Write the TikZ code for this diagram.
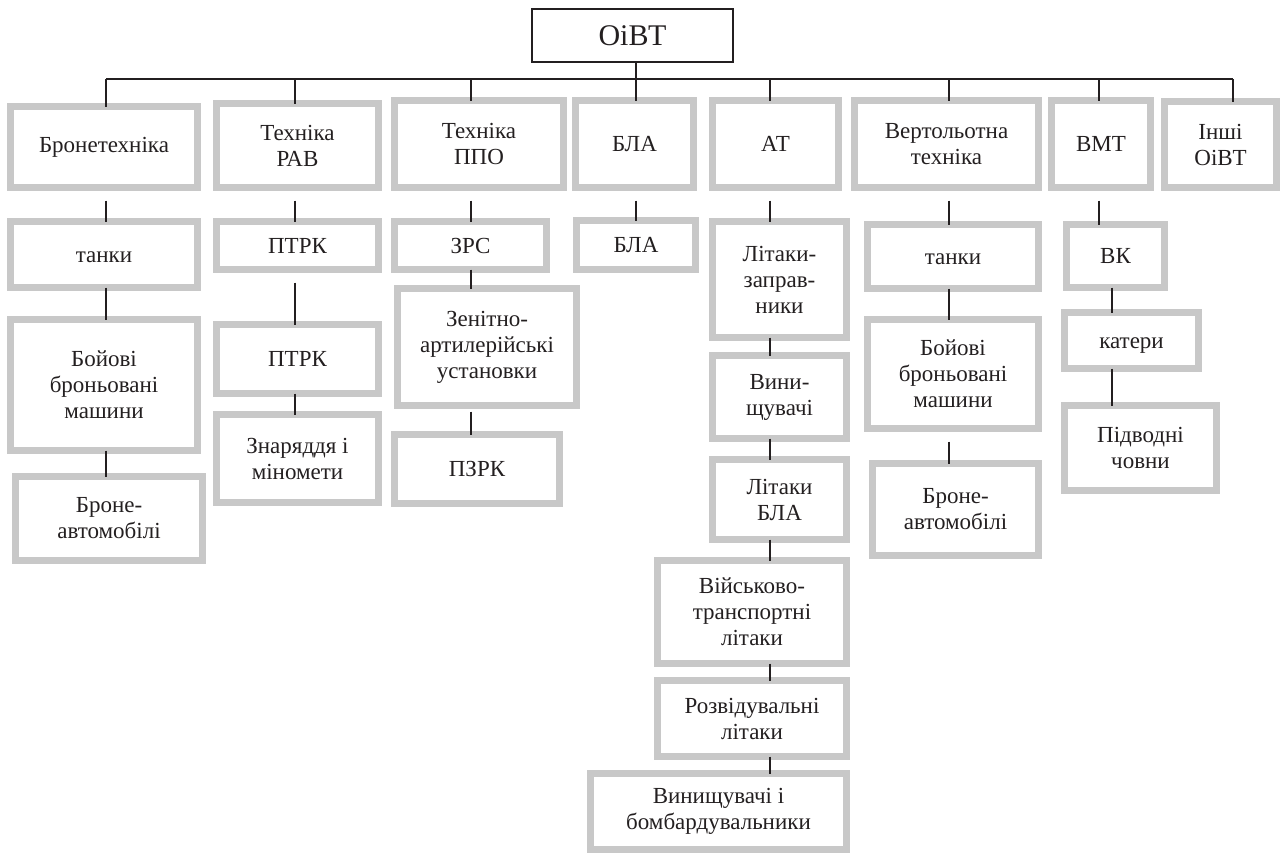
\documentclass[tikz,border=0pt]{standalone}
\usepackage{fontspec}
\setmainfont{Liberation Serif}
\definecolor{framegray}{RGB}{200,200,200}
\definecolor{inkblack}{RGB}{35,31,32}
\tikzset{
  unit/.style={
    draw = framegray,
    line width = 7pt,
    inner sep = 0pt,
    outer sep = 0pt,
    align = center,
    text = inkblack,
    font = \fontsize{23}{26}\selectfont,
  },
  wh/.style 2 args={minimum width=#1pt, minimum height=#2pt},
  oneline/.style={text height=15pt, text depth=0pt},
  link/.style={line width = 1.6pt, inkblack},
  gap/.style={shorten <= 13pt},
}

\begin{document}
\begin{tikzpicture}[x=1pt, y=-1pt]
            \useasboundingbox (0,0) rectangle (1280,854);

            \node[draw=inkblack, text=inkblack, line width=1.2pt, inner sep=0pt, minimum width=201pt, minimum height=53pt,
                  font=\fontsize{30}{36}\selectfont] (root) at (632.5,35.5) {ОіВТ};

            \coordinate (jBR) at (106,79);
            \coordinate (jRAV) at (295,79);
            \coordinate (jPPO) at (471,79);
            \coordinate (jBLA) at (636,79);
            \coordinate (jAVT) at (770,79);
            \coordinate (jVT) at (949,79);
            \coordinate (jVMT) at (1099,79);
            \coordinate (jVK) at (1112,79);
            \coordinate (jIN) at (1233,79);

            \node[unit, wh={187}{81}] (bron) at (104,147) {Бронетехніка};
            \node[unit, oneline, wh={187}{66}] (tanky) at (104,254.5) {танки};
            \node[unit, wh={187}{131}] (boyovi) at (104,385) {Бойові\\броньовані\\машини};
            \node[unit, wh={187}{84}] (bronavto) at (109,518.5) {Броне-\\автомобілі};

            \node[unit, wh={162}{84}] (rav) at (297.5,145.5) {Техніка\\РАВ};
            \node[unit, wh={162}{48}] (ptrk) at (297.5,245.5) {ПТРК};
            \node[unit, wh={162}{69}] (ptrkb) at (297.5,359) {ПТРК};
            \node[unit, wh={162}{88}] (znar) at (297.5,458.5) {Знаряддя і\\міномети};

            \node[unit, wh={169}{87}] (ppo) at (479,144) {Техніка\\ППО};
            \node[unit, wh={152}{48}] (zrs) at (470.5,245.5) {ЗРС};
            \node[unit, wh={179}{117}] (zenit) at (487,347) {Зенітно-\\артилерійські\\установки};
            \node[unit, wh={165}{69}] (pzrk) at (477,469) {ПЗРК};

            \node[unit, wh={118}{87}] (bla) at (634.5,144) {БЛА};
            \node[unit, wh={119}{49}] (blab) at (636,245) {БЛА};

            \node[unit, wh={126}{87}] (avt) at (775.5,144) {АТ};
            \node[unit, wh={134}{116}] (zapr) at (779.5,279.5) {Літаки-\\заправ-\\ники};
            \node[unit, wh={134}{83}] (vynysh) at (779.5,397) {Вини-\\щувачі};
            \node[unit, wh={134}{80}] (litbla) at (779.5,499.5) {Літаки\\БЛА};
            \node[unit, wh={189}{103}] (vtl) at (752,612) {Військово-\\транспортні\\літаки};
            \node[unit, wh={189}{76}] (rozv) at (752,718.5) {Розвідувальні\\літаки};
            \node[unit, wh={256}{76}] (bomb) at (718.5,811.5) {Винищувачі і\\бомбардувальники};

            \node[unit, wh={184}{87}] (vert) at (946.5,144) {Вертольотна\\техніка};
            \node[unit, oneline, wh={171}{64}] (vtanky) at (953,256.5) {танки};
            \node[unit, wh={171}{109}] (vboyovi) at (953,374) {Бойові\\броньовані\\машини};
            \node[unit, wh={166}{92}] (vbronavto) at (955.5,509.5) {Броне-\\автомобілі};

            \node[unit, wh={99}{87}] (vmt) at (1101,144) {ВМТ};
            \node[unit, wh={98}{63}] (vk) at (1115.5,256) {ВК};
            \node[unit, oneline, wh={134}{56}] (kater) at (1131.5,340.5) {катери};
            \node[unit, wh={152}{85}] (pidv) at (1140.5,448) {Підводні\\човни};

            \node[unit, wh={112}{86}] (inshi) at (1220.5,144.5) {Інші\\ОіВТ};

            \draw[link] (jBR) -- (jIN);
            \draw[link] (root.south -| jBLA) -- (bla.north -| jBLA);
            \draw[link] (jBR) -- (bron.north -| jBR);
            \draw[link] (jRAV) -- (rav.north -| jRAV);
            \draw[link] (jPPO) -- (ppo.north -| jPPO);
            \draw[link] (jAVT) -- (avt.north -| jAVT);
            \draw[link] (jVT) -- (vert.north -| jVT);
            \draw[link] (jVMT) -- (vmt.north -| jVMT);
            \draw[link] (jIN) -- (inshi.north -| jIN);

            \draw[link, gap] (bron.south -| jBR) -- (tanky.north -| jBR);
            \draw[link] (tanky.south -| jBR) -- (boyovi.north -| jBR);
            \draw[link] (boyovi.south -| jBR) -- (bronavto.north -| jBR);

            \draw[link, gap] (rav.south -| jRAV) -- (ptrk.north -| jRAV);
            \draw[link, gap] (ptrk.south -| jRAV) -- (ptrkb.north -| jRAV);
            \draw[link] (ptrkb.south -| jRAV) -- (znar.north -| jRAV);

            \draw[link, gap] (ppo.south -| jPPO) -- (zrs.north -| jPPO);
            \draw[link] (zrs.south -| jPPO) -- (zenit.north -| jPPO);
            \draw[link, shorten <= 6pt] (zenit.south -| jPPO) -- (pzrk.north -| jPPO);

            \draw[link, gap] (bla.south -| jBLA) -- (blab.north -| jBLA);

            \draw[link, gap] (avt.south -| jAVT) -- (zapr.north -| jAVT);
            \draw[link] (zapr.south -| jAVT) -- (vynysh.north -| jAVT);
            \draw[link] (vynysh.south -| jAVT) -- (litbla.north -| jAVT);
            \draw[link] (litbla.south -| jAVT) -- (vtl.north -| jAVT);
            \draw[link] (vtl.south -| jAVT) -- (rozv.north -| jAVT);
            \draw[link] (rozv.south -| jAVT) -- (bomb.north -| jAVT);

            \draw[link, gap] (vert.south -| jVT) -- (vtanky.north -| jVT);
            \draw[link] (vtanky.south -| jVT) -- (vboyovi.north -| jVT);
            \draw[link, gap] (vboyovi.south -| jVT) -- (vbronavto.north -| jVT);

            \draw[link, gap] (vmt.south -| jVMT) -- (vk.north -| jVMT);
            \draw[link] (vk.south -| jVK) -- (kater.north -| jVK);
            \draw[link] (kater.south -| jVK) -- (pidv.north -| jVK);
        \end{tikzpicture}
\end{document}
